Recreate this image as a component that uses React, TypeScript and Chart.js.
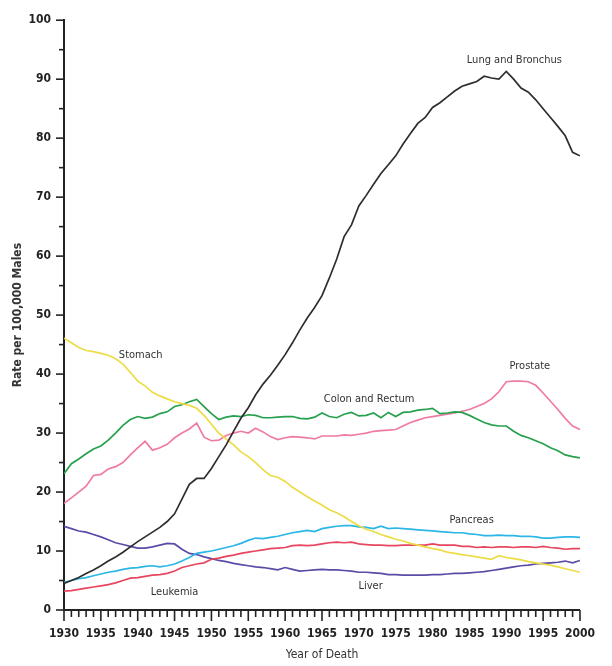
import React, { useEffect, useRef } from 'react';
import { Chart, registerables } from 'chart.js';

Chart.register(...registerables);

const years: number[] = [];
for (let y = 1930; y <= 2000; y++) years.push(y);

const lung = [
  4.5, 5.0, 5.5, 6.2, 6.8, 7.5, 8.3, 9.0, 9.8, 10.7,
  11.6, 12.4, 13.2, 14.0, 15.0, 16.3, 18.8, 21.3, 22.3, 22.3,
  24.0, 26.0, 28.0, 30.3, 32.5, 34.3, 36.5, 38.3, 39.8, 41.5,
  43.3, 45.3, 47.5, 49.5, 51.3, 53.3, 56.3, 59.5, 63.3, 65.3,
  68.5, 70.3, 72.2, 74.0, 75.5, 77.0, 79.0, 80.8, 82.5, 83.5,
  85.2, 86.0, 87.0, 88.0, 88.8, 89.2, 89.6, 90.5, 90.2, 90.0,
  91.3, 90.0, 88.5, 87.8, 86.5, 85.0, 83.5, 82.0, 80.4, 77.6,
  77.0,
];

const stomach = [
  46.1, 45.3, 44.5, 44.0, 43.8, 43.5, 43.2, 42.6, 41.7, 40.3,
  38.8, 38.0, 36.9, 36.3, 35.8, 35.3, 35.0, 34.7, 34.2, 33.0,
  31.5, 30.0, 29.0, 28.0, 26.8, 26.0, 25.0, 23.8, 22.8, 22.5,
  21.8, 20.8, 20.0, 19.2, 18.5, 17.8, 17.0, 16.5, 15.8, 15.0,
  14.3, 13.7, 13.3, 12.8, 12.4, 12.0, 11.7, 11.3, 11.0, 10.7,
  10.4, 10.2, 9.8, 9.6, 9.4, 9.2, 9.0, 8.8, 8.6, 9.2,
  8.9, 8.7, 8.5, 8.2, 8.0, 7.8, 7.6, 7.3, 7.0, 6.7,
  6.4,
];

const colon = [
  23.1, 24.8, 25.6, 26.5, 27.3, 27.8, 28.8, 30.0, 31.3, 32.3,
  32.8, 32.5, 32.7, 33.3, 33.6, 34.5, 34.8, 35.3, 35.7, 34.5,
  33.3, 32.3, 32.7, 32.9, 32.8, 33.1, 33.0, 32.6, 32.6, 32.7,
  32.8, 32.8, 32.5, 32.4, 32.7, 33.4, 32.8, 32.6, 33.2, 33.5,
  32.9, 33.0, 33.4, 32.6, 33.5, 32.8, 33.5, 33.6, 33.9, 34.0,
  34.2, 33.3, 33.4, 33.6, 33.5, 33.0, 32.4, 31.8, 31.4, 31.2,
  31.2, 30.3, 29.6, 29.2, 28.7, 28.2, 27.5, 27.0, 26.3, 26.0,
  25.8,
];

const prostate = [
  18.1, 19.0, 20.0, 21.0, 22.8, 23.0, 23.9, 24.3, 25.0, 26.3,
  27.5, 28.6, 27.1, 27.5, 28.1, 29.2, 30.0, 30.7, 31.7, 29.3,
  28.7, 28.8, 29.6, 30.0, 30.3, 30.0, 30.8, 30.2, 29.4, 28.9,
  29.2, 29.4, 29.3, 29.2, 29.0, 29.5, 29.5, 29.5, 29.7, 29.6,
  29.8, 30.0, 30.3, 30.4, 30.5, 30.6, 31.2, 31.8, 32.2, 32.6,
  32.8, 33.0, 33.2, 33.4, 33.7, 34.0, 34.5, 35.0, 35.8, 37.0,
  38.7, 38.8, 38.8, 38.7, 38.1, 36.8, 35.4, 34.0, 32.5, 31.2,
  30.6,
];

const pancreas = [
  4.7, 5.0, 5.3, 5.5, 5.8, 6.1, 6.4, 6.6, 6.9, 7.1,
  7.2, 7.4, 7.5, 7.3, 7.5, 7.8, 8.3, 8.9, 9.6, 9.8,
  10.0, 10.3, 10.6, 10.9, 11.3, 11.8, 12.2, 12.1, 12.3, 12.5,
  12.8, 13.1, 13.3, 13.5, 13.3, 13.8, 14.0, 14.2, 14.3, 14.3,
  14.1, 14.0, 13.8, 14.2, 13.8, 13.9, 13.8, 13.7, 13.6, 13.5,
  13.4, 13.3, 13.2, 13.1, 13.1, 12.9, 12.8, 12.6, 12.6, 12.7,
  12.6, 12.6, 12.5, 12.5, 12.4, 12.2, 12.2, 12.3, 12.4, 12.4,
  12.3,
];

const leukemia = [
  3.2, 3.3, 3.5, 3.7, 3.9, 4.1, 4.3, 4.6, 5.0, 5.4,
  5.5, 5.7, 5.9, 6.0, 6.2, 6.6, 7.2, 7.5, 7.8, 8.0,
  8.6, 8.8, 9.1, 9.3, 9.6, 9.8, 10.0, 10.2, 10.4, 10.5,
  10.6, 10.9, 11.0, 10.9, 11.0, 11.2, 11.4, 11.5, 11.4, 11.5,
  11.2, 11.1, 11.0, 11.0, 10.9, 10.9, 11.0, 11.0, 11.0, 11.0,
  11.2, 11.0, 11.0, 11.0, 10.8, 10.8, 10.6, 10.7, 10.6, 10.7,
  10.7, 10.6, 10.7, 10.7, 10.6, 10.8, 10.6, 10.5, 10.3, 10.4,
  10.4,
];

const liver = [
  14.2, 13.8, 13.4, 13.2, 12.8, 12.4, 11.9, 11.4, 11.1, 10.8,
  10.5, 10.5, 10.7, 11.0, 11.3, 11.2, 10.3, 9.6, 9.4, 9.0,
  8.7, 8.4, 8.2, 7.9, 7.7, 7.5, 7.3, 7.2, 7.0, 6.8,
  7.2, 6.9, 6.6, 6.7, 6.8, 6.9, 6.8, 6.8, 6.7, 6.6,
  6.4, 6.4, 6.3, 6.2, 6.0, 6.0, 5.9, 5.9, 5.9, 5.9,
  6.0, 6.0, 6.1, 6.2, 6.2, 6.3, 6.4, 6.5, 6.7, 6.9,
  7.1, 7.3, 7.5, 7.6, 7.8, 7.9, 8.0, 8.1, 8.3, 8.0,
  8.4,
];

// series name, label text, label position (year, rate)
const seriesNames = ['Lung and Bronchus', 'Stomach', 'Colon and Rectum', 'Prostate', 'Pancreas', 'Leukemia', 'Liver'];
const seriesValues = [lung, stomach, colon, prostate, pancreas, leukemia, liver];
const seriesColors = ['#2e2e2e', '#ecdc45', '#27a04e', '#f07aa6', '#2bb6e6', '#e8455f', '#5a4ca6'];
const labelYears = [1991.1, 1940.4, 1971.4, 1993.2, 1985.3, 1945.0, 1971.6];
const labelRates = [93.3, 43.2, 35.8, 41.3, 15.3, 3.1, 4.0];

const FONT = "'Liberation Sans Narrow', 'Arial Narrow', 'DejaVu Sans Condensed', 'Liberation Sans', sans-serif";

const App = () => {
  const canvasRef = useRef<HTMLCanvasElement>(null);
  const chartRef = useRef<Chart | null>(null);

  useEffect(() => {
    document.body.style.margin = '0';
    if (!canvasRef.current) return;
    const ctx = canvasRef.current.getContext('2d');
    if (!ctx) return;

    // tick marks and curve labels
    const decorPlugin = {
      id: 'decor',
      afterDraw: (chart: Chart) => {
        const c = chart.ctx;
        const xs = chart.scales.x;
        const ys = chart.scales.y;
        const axisY = ys.getPixelForValue(0);
        const axisX = xs.getPixelForValue(1930);
        c.save();
        c.strokeStyle = '#222';
        c.lineWidth = 1.6;
        for (let yr = 1930; yr <= 2000; yr++) {
          const px = xs.getPixelForValue(yr);
          const len = yr % 5 === 0 ? 11 : 7;
          c.beginPath();
          c.moveTo(px, axisY);
          c.lineTo(px, axisY + len);
          c.stroke();
        }
        for (let v = 0; v <= 100; v += 5) {
          const py = ys.getPixelForValue(v);
          const len = v % 10 === 0 ? 8 : 5;
          c.beginPath();
          c.moveTo(axisX, py);
          c.lineTo(axisX - len, py);
          c.stroke();
        }
        c.fillStyle = '#333';
        c.font = `11px ${FONT}`;
        c.textAlign = 'center';
        c.textBaseline = 'middle';
        seriesNames.forEach((name, i) => {
          c.fillText(name, xs.getPixelForValue(labelYears[i]), ys.getPixelForValue(labelRates[i]));
        });
        c.restore();
      },
    };

    chartRef.current = new Chart(ctx, {
      type: 'line',
      data: {
        datasets: seriesNames.map((name, i) => ({
          label: name,
          data: years.map((yr, j) => ({ x: yr, y: seriesValues[i][j] })),
          borderColor: seriesColors[i],
          backgroundColor: seriesColors[i],
          borderWidth: 1.7,
          pointRadius: 0,
          tension: 0,
          fill: false,
        })),
      },
      plugins: [decorPlugin],
      options: {
        responsive: false,
        animation: false,
        layout: { padding: { left: 0, top: 17, right: 12, bottom: 0 } },
        plugins: {
          legend: { display: false },
          tooltip: { enabled: false },
        },
        scales: {
          x: {
            type: 'linear',
            min: 1930,
            max: 2000,
            grid: { display: false, drawTicks: false },
            border: { display: true, color: '#222', width: 2 },
            ticks: {
              stepSize: 5,
              padding: 17,
              color: '#222',
              maxRotation: 0,
              autoSkip: false,
              font: { family: FONT, size: 12, weight: 'bold' },
              callback: (v: any) => String(v),
            },
            title: {
              display: true,
              text: 'Year of Death',
              color: '#333',
              font: { family: FONT, size: 12 },
              padding: { top: 0, bottom: 4 },
            },
            afterFit: (s: any) => { s.height = 56; },
          },
          y: {
            min: 0,
            max: 100,
            grid: { display: false, drawTicks: false },
            border: { display: true, color: '#222', width: 2 },
            ticks: {
              stepSize: 10,
              padding: 13,
              color: '#222',
              font: { family: FONT, size: 12, weight: 'bold' },
            },
            title: {
              display: true,
              text: 'Rate per 100,000 Males',
              color: '#333',
              font: { family: FONT, size: 12, weight: 'bold' },
              padding: { top: 11, bottom: 0 },
            },
            afterFit: (s: any) => { s.width = 64; },
          },
        },
      },
    });

    return () => {
      if (chartRef.current) {
        chartRef.current.destroy();
        chartRef.current = null;
      }
    };
  }, []);

  return (
    <div style={{ width: 612, height: 666, background: '#fff' }}>
      <canvas ref={canvasRef} width={612} height={666} style={{ width: 612, height: 666 }}></canvas>
    </div>
  );
};

export default App;
